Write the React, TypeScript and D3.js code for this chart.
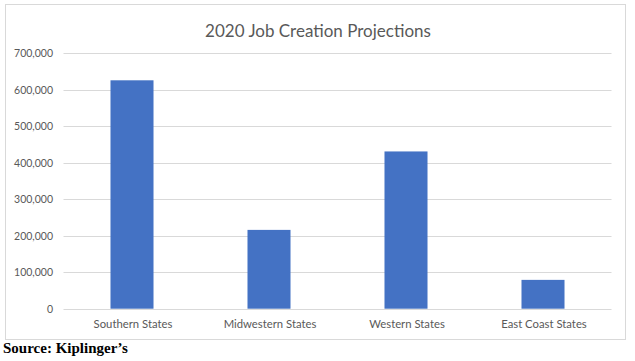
import React from "react";
import * as d3 from "d3";

const categories = ["Southern States", "Midwestern States", "Western States", "East Coast States"];
const values = [626000, 216000, 431000, 79000];
const yTicks = [0, 100000, 200000, 300000, 400000, 500000, 600000, 700000];
const title = "2020 Job Creation Projections";
const source = "Source: Kiplinger\u2019s";

export default function App() {
  const W = 635, H = 361;
  const x0 = 63.5, x1 = 611.5, yTop = 53.3, yBot = 308.7;
  const x = d3.scaleBand<string>().domain(categories).range([x0, x1]).paddingInner(0.686).paddingOuter(0.343);
  const y = d3.scaleLinear().domain([0, 700000]).range([yBot, yTop]);
  const fmt = d3.format(",");
  const font = "Lato, 'Open Sans', sans-serif";
  return (
    <svg width={W} height={H} style={{ position: "absolute", left: 0, top: 0 }}>
      <rect x={0} y={0} width={W} height={H} fill="#fff" />
      <rect x={5.5} y={4.5} width={620} height={335} fill="#fff" stroke="#d9d9d9" strokeWidth={1} />
      <text x={318} y={37} textAnchor="middle" fontFamily={font} fontSize={17} fill="#595959">{title}</text>
      {yTicks.map(t => (
        <g key={t}>
          <line x1={x0} x2={x1} y1={Math.round(y(t)) + 0.5} y2={Math.round(y(t)) + 0.5} stroke="#d9d9d9" strokeWidth={1} />
          <text x={53} y={y(t) + 4} textAnchor="end" fontFamily={font} fontSize={10.5} fill="#595959">{fmt(t)}</text>
        </g>
      ))}
      {categories.map((c, i) => (
        <g key={c}>
          <rect x={x(c)!} y={y(values[i])} width={x.bandwidth()} height={y(0) - y(values[i])} fill="#4472C4" />
          <text x={x(c)! + x.bandwidth() / 2 + 1} y={328} textAnchor="middle" fontFamily={font} fontSize={11.3} fill="#595959">{c}</text>
        </g>
      ))}
      <text x={3} y={353} fontFamily="'Liberation Serif', 'Times New Roman', serif" fontWeight="bold" fontSize={15} fill="#000">{source}</text>
    </svg>
  );
}
